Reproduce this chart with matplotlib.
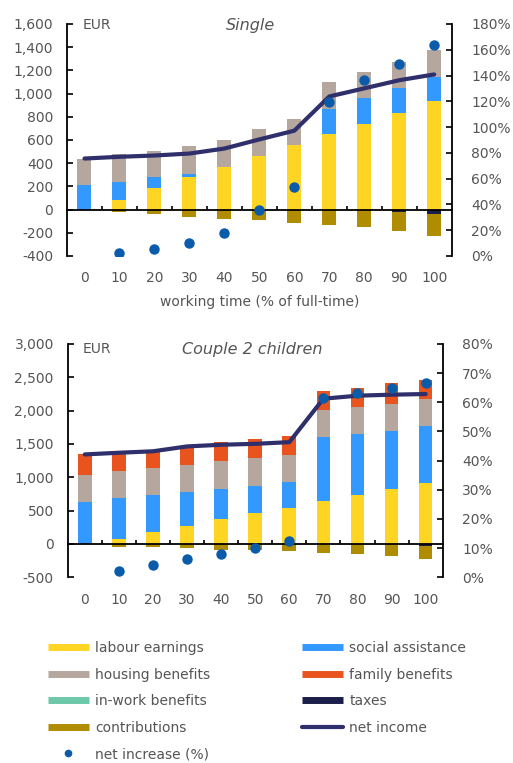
import numpy as np
import matplotlib.pyplot as plt
from matplotlib.lines import Line2D
from matplotlib.ticker import FuncFormatter

plt.rcParams['font.family'] = ['DejaVu Sans']
plt.rcParams['font.size'] = 10

TXT = '#555555'

# working time, % of full-time
hours = ['0', '10', '20', '30', '40', '50', '60', '70', '80', '90', '100']

# Single (EUR per month)
s_labour = [0, 86, 187, 282, 365, 462, 560, 655, 741, 836, 934]
s_social = [216, 154, 95, 28, 0, 0, 0, 210, 223, 211, 210]
s_housing = [218, 243, 221, 236, 238, 235, 223, 235, 220, 223, 235]
s_family = [0, 0, 0, 0, 0, 0, 0, 0, 0, 0, 0]
s_inwork = [0, 0, 0, 0, 0, 0, 0, 0, 0, 0, 0]
s_taxes = [0, 0, 0, 0, 0, 0, 0, 0, 0, -23, -34]
s_contrib = [0, -23, -34, -63, -78, -92, -118, -132, -147, -164, -196]
s_net = [440, 455, 466, 483, 526, 605, 680, 975, 1045, 1115, 1165]
s_increase = [np.nan, 2.4, 5.8, 9.9, 18.1, 35.5, 53.6, 119.5, 136.9, 149.3, 163.5]

# Couple with 2 children (EUR per month)
c_labour = [0, 80, 174, 274, 373, 468, 542, 637, 731, 831, 920]
c_social = [632, 602, 557, 507, 458, 408, 383, 960, 916, 866, 846]
c_housing = [408, 408, 408, 408, 408, 406, 403, 408, 403, 403, 403]
c_family = [313, 298, 241, 279, 288, 285, 289, 284, 288, 313, 289]
c_inwork = [0, 0, 0, 0, 0, 0, 0, 0, 0, 0, 0]
c_taxes = [0, 0, 0, 0, 0, 0, 0, 0, 0, 0, -30]
c_contrib = [0, -40, -40, -65, -90, -95, -104, -129, -149, -174, -194]
c_net = [1343, 1368, 1390, 1463, 1488, 1502, 1527, 2179, 2224, 2239, 2249]
c_increase = [np.nan, 2.0, 4.3, 6.3, 8.1, 10.2, 12.5, 61.6, 63.3, 64.8, 66.5]

colors = {
    'labour earnings': '#FFD524',
    'social assistance': '#3399FF',
    'housing benefits': '#B5A79E',
    'family benefits': '#E8531E',
    'in-work benefits': '#6CC8A8',
    'taxes': '#1B1E48',
    'contributions': '#B08C00',
}
NET_C = '#2E2F6B'
DOT_C = '#0A5CAA'


def panel(ax, pos, neg, net, inc, ylim, yticks, rlim, rticks, title, tx, ty, xlabel=None):
    x = np.arange(len(hours))
    w = 0.4
    base = np.zeros(len(x))
    for name, vals in pos:
        ax.bar(x, vals, w, bottom=base, color=colors[name], zorder=2)
        base = base + np.array(vals)
    base = np.zeros(len(x))
    for name, vals in neg:
        ax.bar(x, vals, w, bottom=base, color=colors[name], zorder=2)
        base = base + np.array(vals)
    ax.plot(x, net, color=NET_C, lw=3, solid_capstyle='round', zorder=3)

    ax.set_xlim(-0.5, 10.5)
    ax.set_ylim(*ylim)
    ax.set_yticks(yticks)
    ax.yaxis.set_major_formatter(FuncFormatter(lambda v, p: f'{int(v):,}'))
    ax.tick_params(axis='y', direction='in', length=4, width=1.2, pad=10, labelcolor=TXT)
    for s in ['top', 'right']:
        ax.spines[s].set_visible(False)
    ax.spines['left'].set_linewidth(1.3)
    # zero line with small ticks between the bars
    ax.spines['bottom'].set_position(('data', 0))
    ax.spines['bottom'].set_linewidth(1.3)
    ax.set_xticks(x[:-1] + 0.5)
    ax.set_xticklabels([])
    ax.tick_params(axis='x', direction='in', length=3, width=1.2)

    sec = ax.secondary_xaxis('bottom')
    sec.set_xticks(x, hours)
    sec.spines['bottom'].set_visible(False)
    sec.tick_params(length=0, pad=11, labelcolor=TXT)
    if xlabel:
        sec.set_xlabel(xlabel, color=TXT, labelpad=7)

    ax2 = ax.twinx()
    ax2.plot(x, inc, 'o', color=DOT_C, ms=6.5, zorder=4)
    ax2.set_ylim(*rlim)
    ax2.set_yticks(rticks)
    ax2.yaxis.set_major_formatter(FuncFormatter(lambda v, p: f'{int(v)}%'))
    ax2.tick_params(axis='y', direction='in', length=4, width=1.2, pad=14, labelcolor=TXT)
    for s in ['top', 'left', 'bottom']:
        ax2.spines[s].set_visible(False)
    ax2.spines['right'].set_linewidth(1.3)

    ax.text(0.04, ty if ty < 1 else 0.995, 'EUR', transform=ax.transAxes, va='center',
            color=TXT)
    ax.text(tx, ty, title, transform=ax.transAxes, ha='center', va='center',
            style='italic', fontsize=11.5, color=TXT)


fig = plt.figure(figsize=(5.13, 7.63), dpi=100)

ax_top = fig.add_axes([0.1306, 0.6645, 0.7499, 0.3041])
panel(ax_top,
      [('labour earnings', s_labour), ('social assistance', s_social),
       ('housing benefits', s_housing), ('family benefits', s_family),
       ('in-work benefits', s_inwork)],
      [('taxes', s_taxes), ('contributions', s_contrib)],
      s_net, s_increase, (-400, 1600), np.arange(-400, 1601, 200),
      (0, 180), np.arange(0, 181, 20), 'Single', 0.477, 0.995,
      xlabel='working time (% of full-time)')

ax_bot = fig.add_axes([0.132, 0.2434, 0.731, 0.3058])
panel(ax_bot,
      [('labour earnings', c_labour), ('social assistance', c_social),
       ('housing benefits', c_housing), ('family benefits', c_family),
       ('in-work benefits', c_inwork)],
      [('taxes', c_taxes), ('contributions', c_contrib)],
      c_net, c_increase, (-500, 3000), np.arange(-500, 3001, 500),
      (0, 80), np.arange(0, 81, 10), 'Couple 2 children', 0.491, 0.978)


def bar_handle(name):
    return Line2D([], [], color=colors[name], lw=5, solid_capstyle='butt')


handles = [bar_handle('labour earnings'), bar_handle('housing benefits'),
           bar_handle('in-work benefits'), bar_handle('contributions'),
           Line2D([], [], ls='none', marker='o', color=DOT_C, ms=4.5),
           bar_handle('social assistance'), bar_handle('family benefits'),
           bar_handle('taxes'),
           Line2D([], [], color=NET_C, lw=3, solid_capstyle='round')]
labels = ['labour earnings', 'housing benefits', 'in-work benefits', 'contributions',
          'net increase (%)', 'social assistance', 'family benefits', 'taxes', 'net income']
leg = fig.legend(handles, labels, ncol=2, loc='upper left',
                 bbox_to_anchor=(48 / 513, 1 - 641 / 763), frameon=False,
                 handlelength=2.95, handletextpad=0.45, columnspacing=6.6,
                 labelspacing=0.9, borderpad=0, borderaxespad=0)
for t in leg.get_texts():
    t.set_color(TXT)

fig.savefig('out.png', dpi=100)
